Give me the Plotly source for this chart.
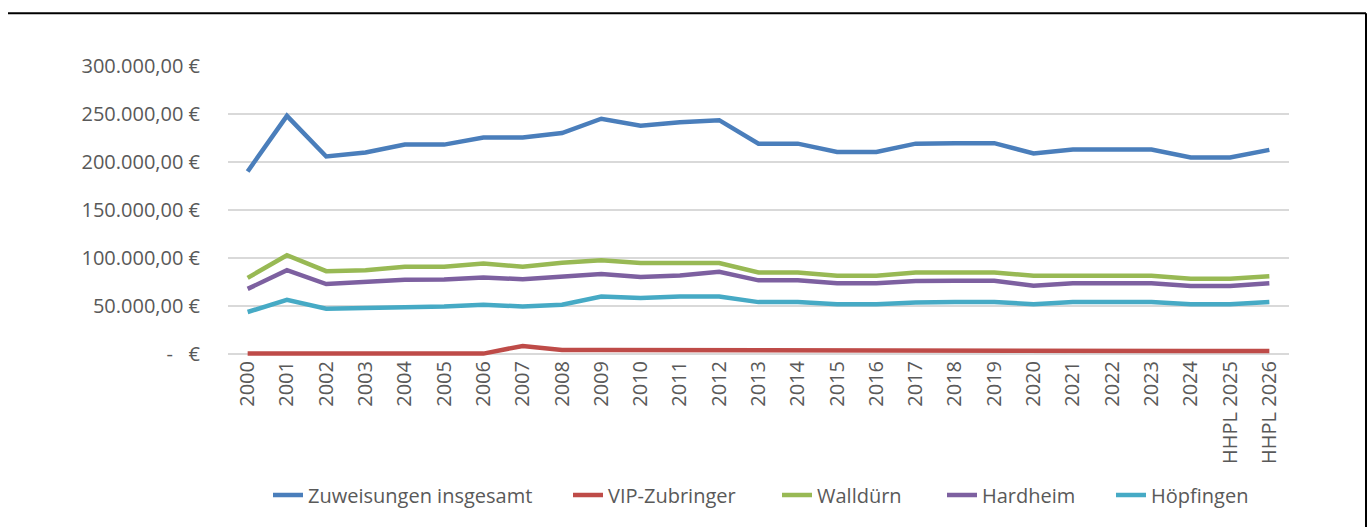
import plotly.graph_objects as go

years = ["2000", "2001", "2002", "2003", "2004", "2005", "2006", "2007", "2008", "2009",
         "2010", "2011", "2012", "2013", "2014", "2015", "2016", "2017", "2018", "2019",
         "2020", "2021", "2022", "2023", "2024", "HHPL 2025", "HHPL 2026"]

zuweisungen = [190000, 248000, 205600, 209700, 218000, 218000, 225500, 225500, 230000, 245000,
               237600, 241400, 243500, 219000, 219000, 210400, 210400, 219000, 219500, 219500,
               208700, 212800, 212800, 212800, 204500, 204500, 212500]
vip = [0, 0, 0, 0, 0, 0, 0, 8000, 3800, 3800,
       3700, 3600, 3300, 2800, 2800, 2800, 2800, 2800, 2800, 2800,
       2800, 2800, 2800, 2800, 2800, 2800, 2800]
wallduern = [79000, 102600, 86000, 87000, 90500, 90500, 94000, 90500, 94700, 97400,
             94400, 94400, 94400, 84700, 84700, 81300, 81300, 84700, 84500, 84500,
             81300, 81300, 81300, 81300, 78000, 78000, 80600]
hardheim = [67500, 87000, 72600, 74400, 77000, 77300, 79500, 77500, 80000, 83000,
            80000, 81600, 85400, 76400, 76400, 73300, 73300, 75700, 76000, 76000,
            70900, 73300, 73300, 73300, 70600, 70600, 73300]
hoepfingen = [43400, 56000, 46800, 47500, 49200, 49200, 51000, 49200, 51000, 59600,
              57900, 59600, 59600, 53700, 53700, 51600, 51600, 53400, 53700, 53700,
              51600, 53700, 53700, 53700, 51400, 51400, 53700]

series_names = ["Zuweisungen insgesamt", "VIP-Zubringer", "Walldürn", "Hardheim", "Höpfingen"]
series_values = [zuweisungen, vip, wallduern, hardheim, hoepfingen]
colors = ["#4A7EBB", "#BE4B48", "#98B954", "#7D60A0", "#46AAC5"]

y_tickvals = [0, 50000, 100000, 150000, 200000, 250000, 300000]
y_ticktext = ["-   €", "50.000,00 €", "100.000,00 €", "150.000,00 €",
              "200.000,00 €", "250.000,00 €", "300.000,00 €"]

# layout geometry (pixels)
W, H = 1368, 527
L, R, T, B = 228, 79, 66, 169
PW, PH = W - L - R, H - T - B
legend_text_x = [308, 608, 817, 982, 1151]
legend_y_px = 498

fig = go.Figure()
legend_ids = ["legend", "legend2", "legend3", "legend4", "legend5"]
for name, vals, col, lid in zip(series_names, series_values, colors, legend_ids):
    fig.add_trace(go.Scatter(
        x=years, y=vals, name=name, mode="lines",
        line=dict(color=col, width=4.5), legend=lid,
    ))

FONT = "Open Sans"
legend_layout = {}
for lid, tx in zip(legend_ids, legend_text_x):
    legend_layout[lid] = dict(
        orientation="h", x=(tx - 40 - L) / PW, xanchor="left",
        y=(T + PH - legend_y_px) / PH, yanchor="middle",
        font=dict(family=FONT, size=20, color="#595959"),
        bgcolor="rgba(0,0,0,0)", borderwidth=0,
    )

fig.update_layout(
    width=W, height=H,
    margin=dict(l=L, r=R, t=T, b=B),
    paper_bgcolor="white", plot_bgcolor="white",
    font=dict(family=FONT, size=20, color="#595959"),
    xaxis=dict(
        type="category", tickangle=-90, showgrid=False, showline=False,
        ticks="", zeroline=False, tickfont=dict(size=20, color="#595959"),
        range=[-0.5, len(years) - 0.5],
    ),
    yaxis=dict(
        range=[-2500, 300000], tickvals=y_tickvals, ticktext=y_ticktext,
        showgrid=True, gridcolor="#D9D9D9", gridwidth=1.5,
        zeroline=False, showline=False, ticks="", ticklabelstandoff=27,
        tickfont=dict(size=20, color="#595959"),
    ),
    showlegend=True,
    shapes=[
        dict(type="line", xref="paper", yref="paper",
             x0=(8 - L) / PW, x1=(1366 - L) / PW,
             y0=(T + PH - 13) / PH, y1=(T + PH - 13) / PH,
             line=dict(color="black", width=2)),
        dict(type="line", xref="paper", yref="paper",
             x0=(1366 - L) / PW, x1=(1366 - L) / PW,
             y0=(T + PH - 13) / PH, y1=(T + PH - 540) / PH,
             line=dict(color="black", width=2)),
    ],
    **legend_layout,
)

fig.write_html("out.html", config={"displayModeBar": False},
               post_script="document.body.style.margin='0px';")
